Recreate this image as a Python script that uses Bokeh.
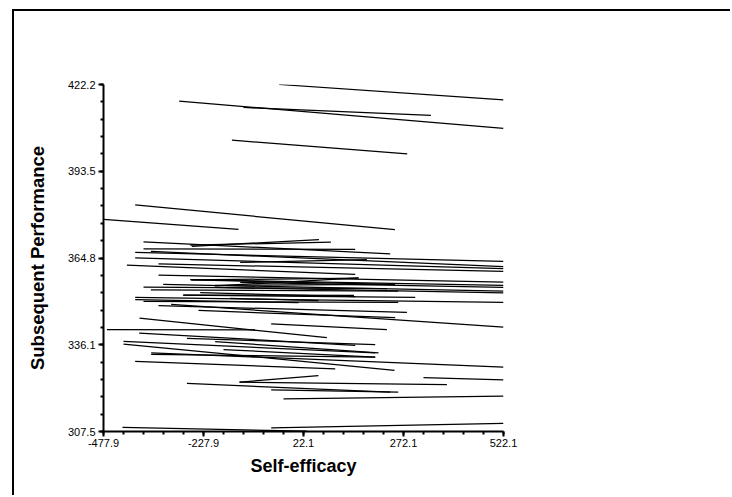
from bokeh.plotting import figure
from bokeh.models import Range1d, FixedTicker, ColumnDataSource
from bokeh.embed import file_html
from bokeh.resources import INLINE

# Segment data (Self-efficacy on x, Subsequent Performance on y)
x_start = [-38.7, -288.7, -127.9, -156.9, -398.7, -477.9,
           -398.7, -359.4, -398.7, -340.4, -340.4, -261.2, -136.2, -328.7, -198.7, -398.7, -308.7,
           -377.9, -257.2, -261.2, -377.9, -136.2, -419.4, -258.7, -198.7, -377.9, -359.4,
           -277.9, -236.2, -398.7, -377.9, -340.4, -240.4, -387.9, -469.4, -58.7, -161.2,
           -388.7, -269.4, -198.7, -427.9, -427.9, -177.9, -358.7, -398.7, -358.7, -137.9,
           -137.9, 322.1, -269.4, -58.7, -27.9, -430.4, -58.7,
           -199.9, -279.3, -258.3]
y_start = [422.2, 416.7, 414.6, 403.8, 382.4, 377.6,
           366.7, 367.0, 364.9, 362.9, 359.2, 357.7, 356.8, 356.1, 355.1, 351.8, 349.5,
           370.2, 368.7, 369.1, 367.9, 363.4, 362.5, 357.6, 355.8, 355.2, 354.3,
           352.6, 353.4, 351.1, 350.5, 349.1, 347.5, 345.0, 341.2, 343.1, 351.5,
           340.0, 338.3, 337.2, 337.3, 336.4, 334.6, 333.0, 330.7, 333.5, 323.8,
           323.8, 325.3, 323.4, 321.3, 318.3, 308.9, 308.7,
           355.6, 352.6, 357.6]
x_end = [522.1, 522.1, 340.6, 281.4, 250.6, -140.4,
         522.1, 522.1, 522.1, 522.1, 522.1, 522.1, 522.1, 522.1, 522.1, 522.1, 522.1,
         238.9, 60.6, 90.6, 151.4, 180.6, 151.4, 159.6, 249.6, 230.6, 258.9,
         301.4, 151.4, 9.6, 258.9, 280.6, 251.4, 80.6, -90.4, 230.6, 59.6,
         151.4, 201.4, 209.6, 201.4, 249.6, 201.4, 201.4, 101.4, 522.1, 59.6,
         380.6, 522.1, 238.9, 258.9, 522.1, 30.0, 522.1,
         159.9, 148.2, 251.0]
y_end = [417.1, 407.7, 412.0, 399.3, 374.2, 374.3,
         363.7, 362.0, 361.3, 360.4, 356.9, 355.8, 355.1, 353.9, 353.3, 350.2, 342.0,
         366.2, 370.9, 370.1, 367.7, 364.3, 359.4, 358.2, 356.1, 354.7, 353.9,
         351.8, 352.1, 350.1, 350.2, 346.9, 345.1, 338.5, 341.1, 341.2, 350.8,
         336.0, 336.2, 333.5, 333.5, 327.7, 332.1, 332.1, 328.2, 328.8, 326.0,
         323.0, 324.6, 320.5, 320.5, 319.2, 307.6, 310.2,
         358.3, 352.5, 356.1]

x_ticks = [-477.9, -227.9, 22.1, 272.1, 522.1]
x_tick_labels = ["-477.9", "-227.9", "22.1", "272.1", "522.1"]
y_ticks = [307.5, 336.175, 364.85, 393.525, 422.2]
y_tick_labels = ["307.5", "336.1", "364.8", "393.5", "422.2"]

x_minor = [x_ticks[0] + 50 * i for i in range(21)]
y_minor = [y_ticks[0] + (y_ticks[-1] - y_ticks[0]) / 20 * i for i in range(21)]

FONT = "Liberation Sans"

# figure placed at (12, 9) inside the page, with a 2px top/left border like the reference frame
p = figure(width=718, height=486, output_backend="svg", toolbar_location=None,
           x_range=Range1d(-477.9, 522.1), y_range=Range1d(307.5, 422.2),
           min_border_left=89, min_border_right=229, min_border_top=73, min_border_bottom=66)
p.styles = {"margin-left": "12px", "margin-top": "9px",
            "border-top": "2px solid black", "border-left": "2px solid black"}
p.outline_line_color = None
p.grid.visible = False
p.background_fill_color = "white"
p.border_fill_color = "white"

src = ColumnDataSource(dict(x0=x_start, y0=y_start, x1=x_end, y1=y_end))
p.segment(x0="x0", y0="y0", x1="x1", y1="y1", source=src, line_color="black", line_width=1.25)

p.xaxis.ticker = FixedTicker(ticks=x_ticks, minor_ticks=x_minor)
p.yaxis.ticker = FixedTicker(ticks=y_ticks, minor_ticks=y_minor)
p.xaxis.major_label_overrides = {t: s for t, s in zip(x_ticks, x_tick_labels)}
p.yaxis.major_label_overrides = {t: s for t, s in zip(y_ticks, y_tick_labels)}

for ax in (p.xaxis[0], p.yaxis[0]):
    ax.axis_line_width = 2
    ax.axis_line_color = "black"
    ax.major_tick_line_width = 2
    ax.minor_tick_line_width = 2
    ax.major_tick_out = 5
    ax.major_tick_in = 0
    ax.minor_tick_out = 3
    ax.minor_tick_in = 0
    ax.major_label_text_font = FONT
    ax.major_label_text_font_size = "11px"
    ax.major_label_text_color = "black"
    ax.axis_label_text_font = FONT
    ax.axis_label_text_font_size = "18px"
    ax.axis_label_text_font_style = "bold"
    ax.axis_label_text_color = "black"

p.yaxis.axis_label_text_font_size = "18.5px"
p.xaxis.axis_label = "Self-efficacy"
p.yaxis.axis_label = "Subsequent Performance"
p.xaxis.major_label_standoff = 2
p.yaxis.major_label_standoff = 3
p.xaxis.axis_label_standoff = 6
p.yaxis.axis_label_standoff = 17

open("out.html", "w").write(file_html(p, INLINE))
